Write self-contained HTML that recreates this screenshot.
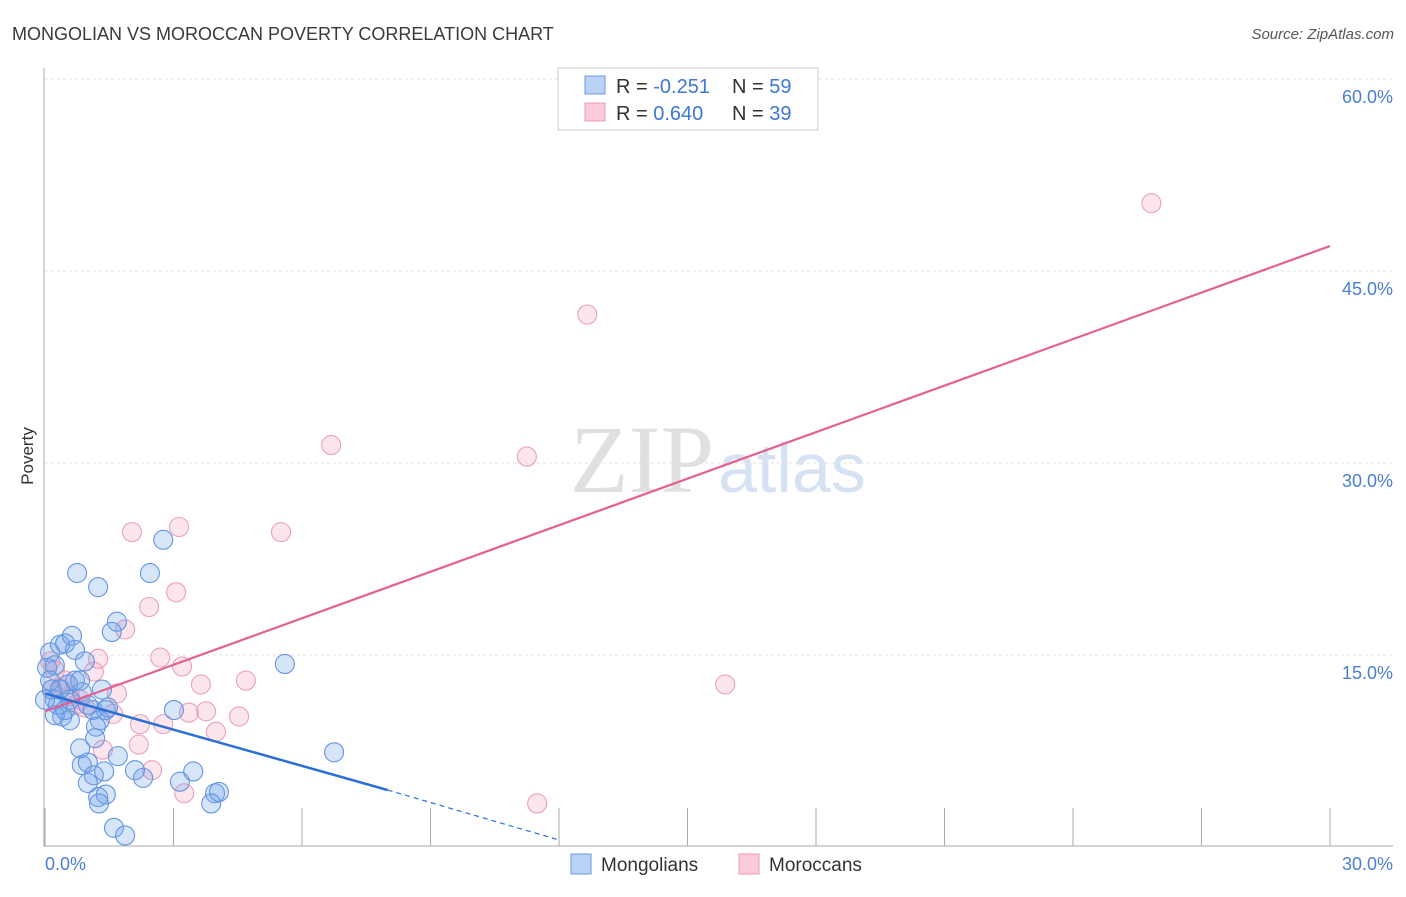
<!DOCTYPE html>
<html><head><meta charset="utf-8"><style>
body{margin:0;background:#fff;font-family:"Liberation Sans",sans-serif;}
</style></head><body>
<svg width="1406" height="892" xmlns="http://www.w3.org/2000/svg" style="font-family:'Liberation Sans',sans-serif">
<text x="12" y="40" font-size="18" fill="#3a3a3a">MONGOLIAN VS MOROCCAN POVERTY CORRELATION CHART</text>
<text x="1394" y="39" font-size="15" fill="#555" font-style="italic" text-anchor="end">Source: ZipAtlas.com</text>
<text transform="translate(33,456) rotate(-90)" font-size="17" fill="#333" text-anchor="middle">Poverty</text>
<text x="714" y="492" font-size="96" font-family="Liberation Serif,serif" fill="#e0e0e0" text-anchor="end">ZIP</text>
<text x="718" y="492" font-size="70" fill="#d6e2f3">atlas</text>
<g id="grid"></g>
<g id="axes"></g>
<g id="marks"></g>
<g>
<rect x="558" y="68" width="260" height="62" fill="#fff" stroke="#ccc"/>
<rect x="585" y="76" width="20" height="18" fill="#b9d2f5" stroke="#6d9be0"/>
<rect x="585" y="103" width="20" height="18" fill="#fbcbda" stroke="#ec9bb7"/>
<text x="616" y="93" font-size="20" fill="#333">R = <tspan fill="#3d78d6">-0.251</tspan><tspan x="732">N = </tspan><tspan fill="#3d78d6">59</tspan></text>
<text x="616" y="120" font-size="20" fill="#333">R = <tspan fill="#3d78d6"> 0.640</tspan><tspan x="732">N = </tspan><tspan fill="#3d78d6">39</tspan></text>
</g>
<g>
<rect x="571" y="854" width="20" height="20" fill="#b9d2f5" stroke="#6d9be0"/>
<text x="601" y="871" font-size="19" fill="#333">Mongolians</text>
<rect x="739" y="854" width="20" height="20" fill="#fbcbda" stroke="#ec9bb7"/>
<text x="769" y="871" font-size="19" fill="#333">Moroccans</text>
</g>
</svg>
<script>
const yTicks=[15,30,45,60];
const yTickLabels=["15.0%","30.0%","45.0%","60.0%"];
const xTicks=[0,3,6,9,12,15,18,21,24,27,30];
const mongoliansX=[0.12,0.05,0.12,0.16,0.23,0.30,0.40,0.58,0.23,0.47,0.35,0.47,0.63,0.54,0.70,0.82,0.86,1.00,1.12,1.33,1.42,0.93,0.75,1.24,2.76,2.45,1.68,1.56,1.28,1.19,1.17,0.82,0.86,1.00,1.38,1.14,1.00,1.24,1.42,1.26,2.10,2.29,1.70,3.01,3.46,3.15,3.97,4.06,3.88,1.61,1.87,5.60,6.75,0.70,0.35,0,0.58,0.23,1.47];
const mongoliansY=[15.2,14.0,13.0,12.3,11.5,11.1,10.2,9.9,10.3,10.7,15.8,15.9,16.5,12.7,13.0,13.0,12.1,11.1,10.7,12.3,10.7,14.5,21.4,20.3,24.0,21.4,17.6,16.8,9.9,9.4,8.5,7.7,6.4,6.6,5.9,5.6,5.0,3.9,4.1,3.4,6.0,5.4,7.1,10.7,5.9,5.1,4.2,4.3,3.4,1.5,0.9,14.3,7.4,15.4,12.3,11.5,11.5,14.2,10.9];
const moroccansX=[25.83,12.66,6.68,11.25,2.03,3.13,5.51,3.06,2.43,1.87,1.24,2.69,3.20,3.64,4.69,1.14,3.76,3.36,4.53,15.88,1.68,1.59,2.22,2.76,3.99,2.19,1.35,2.50,3.25,11.49,0.12,0.23,0.35,0.47,0.58,0.82,0.93,0.70,0.16];
const moroccansY=[50.3,41.6,31.4,30.5,24.6,25.0,24.6,19.9,18.75,17.0,14.7,14.8,14.1,12.7,13.0,13.7,10.6,10.5,10.2,12.7,12.0,10.4,9.6,9.6,9.0,8.0,7.6,6.0,4.2,3.4,14.5,13.8,12.4,13.0,11.8,11.5,10.9,11.1,12.3];
const mongoliansTrend=[[0,12.0],[8.0,4.45]];
const mongoliansTrendExt=[[8.0,4.45],[12.0,0.55]];
const moroccansTrend=[[0,10.6],[30,46.95]];
const NS="http://www.w3.org/2000/svg";
const xs=v=>45+v/30*1285, ys=v=>847-v*12.8;
function mk(tag,attrs,parent){const e=document.createElementNS(NS,tag);for(const k in attrs)e.setAttribute(k,attrs[k]);parent.appendChild(e);return e;}
const grid=document.getElementById('grid'),axes=document.getElementById('axes'),marks=document.getElementById('marks');
yTicks.forEach((t,i)=>{
 const l=mk('line',{x1:45,x2:1393,y1:ys(t),y2:ys(t),stroke:'#e2e2e2','stroke-dasharray':'3,3'},grid);
 
 
 const tx=mk('text',{x:1393,y:ys(t)+24,'font-size':18,fill:'#4a7fd4','text-anchor':'end'},axes);
 tx.textContent=yTickLabels[i];
 
 
});
const ya=mk('line',{x1:44,x2:44,y1:68,y2:847,stroke:'#aaa'},axes);


const xa=mk('line',{x1:44,x2:1393,y1:846,y2:846,stroke:'#aaa'},axes);


xTicks.forEach(t=>{const l=mk('line',{x1:xs(t),x2:xs(t),y1:808,y2:846,stroke:'#aaa'},axes);
 
 });
[[0,"0.0%",'start',45],[30,"30.0%",'end',1393]].forEach(a=>{const t=mk('text',{x:a[3],y:870,'font-size':18,fill:'#4a7fd4','text-anchor':a[2]},axes);t.textContent=a[1];
 
 });
function pts(X,Y,fill,stroke,name){X.forEach((x,i)=>{const c=mk('circle',{cx:xs(x),cy:ys(Y[i]),r:9.5,fill:fill,stroke:stroke,'stroke-width':1.1},marks);
 
 });}
pts(moroccansX,moroccansY,'rgba(245,160,190,0.28)','#eba0bb','moroccans-point');
pts(mongoliansX,mongoliansY,'rgba(110,160,235,0.28)','#6495e2','mongolians-point');
function line(p,stroke,w,dash,name){const l=mk('line',{x1:xs(p[0][0]),y1:ys(p[0][1]),x2:xs(p[1][0]),y2:ys(p[1][1]),stroke:stroke,'stroke-width':w},marks);if(dash)l.setAttribute('stroke-dasharray',dash);
 
 }
line(moroccansTrend,'#e5608f',2.2,null,'moroccans-trendline');
line(mongoliansTrend,'#2a6fd6',2.5,null,'mongolians-trendline');
line(mongoliansTrendExt,'#2a6fd6',1.2,'5,4','mongolians-trendline-extension');
</script>
</body></html>
